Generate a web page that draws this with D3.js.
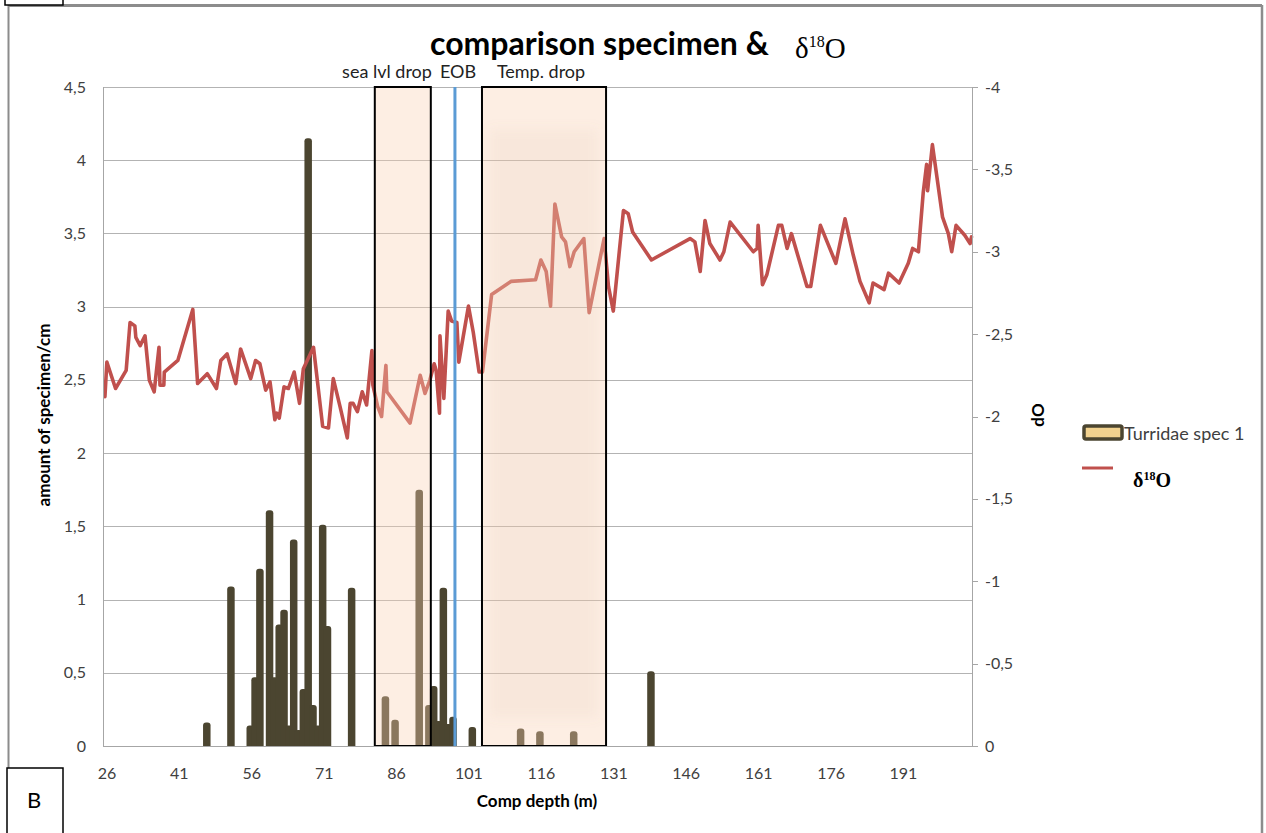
<!DOCTYPE html>
<html>
<head>
<meta charset="utf-8">
<script src="https://cdn.jsdelivr.net/npm/d3@7/dist/d3.min.js"></script>
<style>
  html, body { margin: 0; padding: 0; background: #fff; }
  svg { display: block; }
</style>
</head>
<body>
<svg id="chart" width="1266" height="833"></svg>
<script>
// ---------- DATA ----------
const barDepths = [47, 52, 56, 57, 58, 60, 61, 62, 63, 64, 65, 66, 67, 68, 69, 70, 71, 72, 77, 84, 86, 91, 93, 94, 95, 96, 97, 98, 102, 112, 116, 123, 139];
const barValues = [0.16, 1.09, 0.14, 0.47, 1.21, 1.61, 0.47, 0.83, 0.93, 0.14, 1.41, 0.11, 0.39, 4.15, 0.28, 0.14, 1.51, 0.82, 1.08, 0.34, 0.18, 1.75, 0.28, 0.41, 0.17, 1.08, 0.15, 0.20, 0.13, 0.12, 0.10, 0.10, 0.51];

const d18oDepths = [25.9, 26.3, 28.1, 30.3, 31.1, 32.1, 32.3, 33.2, 34.2, 35.1, 36.1, 37.1, 37.3, 38.1, 38.2, 41.0, 44.1, 45.1, 47.1, 49.0,
  49.9, 51.2, 53.0, 54.0, 56.1, 57.1, 58.0, 59.2, 60.1, 61.1, 61.5, 62.0, 63.0, 63.9, 65.1, 66.2, 67.0, 69.1, 71.0, 72.2,
  73.2, 74.6, 76.1, 76.7, 77.3, 78.2, 79.2, 80.1, 81.2, 81.4, 82.4, 83.2, 84.1, 84.3, 89.1, 91.2, 92.2, 93.2, 94.1, 94.5,
  95.2, 95.3, 96.1, 97.0, 97.7, 98.8, 99.2, 101.2, 102.2, 103.4, 104.1, 106.0, 110.0, 115.1, 116.2, 117.3, 118.2, 119.1, 120.5, 121.3,
  122.2, 123.1, 125.1, 126.2, 129.3, 130.2, 131.2, 133.3, 134.3, 135.2, 139.1, 140.3, 147.1, 148.1, 149.2, 150.2, 151.2, 153.3, 154.1, 155.4,
  160.2, 161.0, 161.2, 162.1, 163.0, 165.4, 166.1, 167.2, 168.1, 171.3, 172.1, 174.1, 177.3, 179.2, 180.9, 182.3, 184.2, 185.0, 187.3, 188.2,
  190.4, 192.3, 193.2, 194.4, 195.4, 196.1, 196.3, 197.3, 199.4, 200.6, 201.3, 202.2, 204.0, 205.1, 205.4];
const d18oValues = [-2.12, -2.33, -2.17, -2.28, -2.57, -2.55, -2.48, -2.43, -2.49, -2.22, -2.15, -2.42, -2.19, -2.19, -2.27, -2.34, -2.65, -2.20, -2.26, -2.17,
  -2.34, -2.38, -2.20, -2.41, -2.23, -2.34, -2.32, -2.16, -2.21, -1.98, -2.02, -1.99, -2.18, -2.17, -2.27, -2.08, -2.29, -2.42, -1.94, -1.93,
  -2.23, -2.06, -1.87, -2.08, -2.08, -2.03, -2.15, -2.07, -2.40, -2.19, -2.06, -2.00, -2.31, -2.15, -1.96, -2.25, -2.14, -2.22, -2.32, -2.28,
  -2.02, -2.49, -2.11, -2.64, -2.58, -2.57, -2.33, -2.67, -2.51, -2.27, -2.27, -2.74, -2.82, -2.83, -2.95, -2.88, -2.67, -3.29, -3.09, -3.06,
  -2.91, -3.00, -3.08, -2.63, -3.08, -2.79, -2.64, -3.25, -3.23, -3.12, -2.95, -2.97, -3.08, -3.06, -2.88, -3.19, -3.05, -2.95, -3.00, -3.18,
  -3.00, -3.02, -3.16, -2.80, -2.86, -3.16, -3.16, -3.02, -3.11, -2.79, -2.79, -3.16, -2.93, -3.20, -2.98, -2.82, -2.69, -2.81, -2.77, -2.87,
  -2.81, -2.93, -3.02, -3.00, -3.36, -3.53, -3.37, -3.65, -3.21, -3.11, -3.00, -3.16, -3.10, -3.05, -3.09];

const xTickLabels = [26, 41, 56, 71, 86, 101, 116, 131, 146, 161, 176, 191];
const leftTicks = [0, 0.5, 1, 1.5, 2, 2.5, 3, 3.5, 4, 4.5];
const rightTicks = [0, -0.5, -1, -1.5, -2, -2.5, -3, -3.5, -4];
const eventLabels = ["sea lvl drop", "Temp. drop"];
const eventFrom = [81.8, 104.0];
const eventTo = [93.4, 129.7];
const eobDepth = 98.4;
const eobLabel = "EOB";
const barSeriesName = "Turridae spec 1";

// ---------- LAYOUT ----------
const L = 103, R = 972, T = 87, B = 746;
const svg = d3.select("#chart");
const font = "Lato, 'Open Sans', sans-serif";
const serif = "'Liberation Serif', 'DejaVu Serif', serif";

const x = d3.scaleLinear().domain([25.5, 205.5]).range([L, R]);
const yL = d3.scaleLinear().domain([0, 4.5]).range([B, T]);
const yR = d3.scaleLinear().domain([0, -4]).range([B, T]);
const fmt = v => String(v).replace(".", ",");

// outer frame
svg.append("line").attr("x1", 8).attr("x2", 1262).attr("y1", 5.5).attr("y2", 5.5)
  .attr("stroke", "#8c8c8c").attr("stroke-width", 3);
svg.append("line").attr("x1", 8.5).attr("x2", 8.5).attr("y1", 5).attr("y2", 768)
  .attr("stroke", "#8c8c8c").attr("stroke-width", 2);
svg.append("line").attr("x1", 1262).attr("x2", 1262).attr("y1", 5).attr("y2", 833)
  .attr("stroke", "#8c8c8c").attr("stroke-width", 2.5);
svg.append("rect").attr("x", 5).attr("y", -10).attr("width", 58).attr("height", 15)
  .attr("fill", "#fff").attr("stroke", "#000").attr("stroke-width", 1.5);

// gridlines
svg.append("g").selectAll("line").data(leftTicks.filter(d => d > 0)).join("line")
  .attr("x1", L).attr("x2", R)
  .attr("y1", d => Math.round(yL(d)) + 0.5).attr("y2", d => Math.round(yL(d)) + 0.5)
  .attr("stroke", "#b3b3b3").attr("stroke-width", 1);

// bars
const bw = 7.5;
svg.append("g").selectAll("path").data(barDepths.map((d, i) => ({ d, v: barValues[i] }))).join("path")
  .attr("d", p => {
    const cx = x(p.d), top = yL(p.v), r = 3;
    const x0 = cx - bw / 2, x1 = cx + bw / 2;
    return `M${x0},${B} L${x0},${top + r} Q${x0},${top} ${x0 + r},${top} L${x1 - r},${top} Q${x1},${top} ${x1},${top + r} L${x1},${B} Z`;
  })
  .attr("fill", "#4b4530");

// line
const lineGen = d3.line().x((d, i) => x(d18oDepths[i])).y(d => yR(d));
svg.append("path").datum(d18oValues).attr("d", lineGen)
  .attr("fill", "none").attr("stroke", "#c0504d").attr("stroke-width", 3.6)
  .attr("stroke-linejoin", "round").attr("stroke-linecap", "round");

// event boxes
const defs = svg.append("defs");
defs.append("filter").attr("id", "blur").attr("x", "-20%").attr("y", "-20%").attr("width", "140%").attr("height", "140%")
  .append("feGaussianBlur").attr("stdDeviation", 6);
eventLabels.forEach((lab, i) => {
  const x0 = x(eventFrom[i]), x1 = x(eventTo[i]);
  svg.append("rect").attr("x", x0).attr("y", T).attr("width", x1 - x0).attr("height", B - T)
    .attr("fill", "rgb(250,209,178)").attr("fill-opacity", 0.36);
  if (i === 1) {
    svg.append("rect").attr("x", x0 + 8).attr("y", T + 42).attr("width", x1 - x0 - 16).attr("height", B - T - 70)
      .attr("fill", "rgb(190,140,110)").attr("fill-opacity", 0.07).attr("filter", "url(#blur)");
  }
  svg.append("rect").attr("x", x0).attr("y", T).attr("width", x1 - x0).attr("height", B - T)
    .attr("fill", "none").attr("stroke", "#000").attr("stroke-width", 2);
});

// EOB line
svg.append("line").attr("x1", x(eobDepth)).attr("x2", x(eobDepth)).attr("y1", T).attr("y2", B)
  .attr("stroke", "#5b9bd5").attr("stroke-width", 3);

// axes lines
svg.append("line").attr("x1", L).attr("x2", R).attr("y1", B + 0.5).attr("y2", B + 0.5).attr("stroke", "#a6a6a6");
svg.append("line").attr("x1", L + 0.5).attr("x2", L + 0.5).attr("y1", T).attr("y2", B).attr("stroke", "#a6a6a6");
svg.append("line").attr("x1", R + 0.5).attr("x2", R + 0.5).attr("y1", T).attr("y2", B).attr("stroke", "#a6a6a6");

// left axis labels
svg.append("g").selectAll("text").data(leftTicks).join("text")
  .attr("x", 86).attr("y", d => yL(d) + 5.5).attr("text-anchor", "end")
  .attr("font-family", font).attr("font-size", 16).attr("fill", "#404040").text(fmt);

// right axis ticks + labels
svg.append("g").selectAll("line").data(rightTicks).join("line")
  .attr("x1", R).attr("x2", R + 6).attr("y1", d => Math.round(yR(d)) + 0.5).attr("y2", d => Math.round(yR(d)) + 0.5)
  .attr("stroke", "#a6a6a6");
svg.append("g").selectAll("text").data(rightTicks).join("text")
  .attr("x", 985).attr("y", d => yR(d) + 5.5).attr("text-anchor", "start")
  .attr("font-family", font).attr("font-size", 16).attr("fill", "#404040").text(fmt);

// x labels
svg.append("g").selectAll("text").data(xTickLabels).join("text")
  .attr("x", d => x(d) + 1.5).attr("y", 779).attr("text-anchor", "middle")
  .attr("font-family", font).attr("font-size", 16).attr("fill", "#404040").text(d => d);

// axis titles
svg.append("text").attr("transform", "translate(50,415) rotate(-90)").attr("text-anchor", "middle")
  .attr("font-family", font).attr("font-weight", "bold").attr("font-size", 17).attr("fill", "#000")
  .text("amount of specimen/cm");
svg.append("text").attr("x", 537).attr("y", 807).attr("text-anchor", "middle")
  .attr("font-family", font).attr("font-weight", "bold").attr("font-size", 17).attr("fill", "#000")
  .text("Comp depth (m)");
svg.append("text").attr("transform", "translate(1044,415) rotate(-90)").attr("text-anchor", "middle")
  .attr("font-family", font).attr("font-weight", "bold").attr("font-size", 17).attr("fill", "#000")
  .text("dO");

// event labels
const evCenters = [387, 541];
eventLabels.forEach((lab, i) => {
  svg.append("text").attr("x", evCenters[i]).attr("y", 78).attr("text-anchor", "middle")
    .attr("font-family", font).attr("font-size", 18).attr("fill", "#222").text(lab);
});
svg.append("text").attr("x", 458).attr("y", 78).attr("text-anchor", "middle")
  .attr("font-family", font).attr("font-size", 18).attr("fill", "#222").text(eobLabel);

// title
svg.append("text").attr("x", 430).attr("y", 55).attr("fill", "#000")
  .attr("font-family", font).attr("font-weight", "bold").attr("font-size", 32).text("comparison specimen &");
const t2 = svg.append("text").attr("x", 795).attr("y", 58).attr("fill", "#000").attr("font-family", serif);
t2.append("tspan").attr("font-size", 29).text("δ");
t2.append("tspan").attr("dy", -11).attr("font-size", 16).text("18");
t2.append("tspan").attr("dy", 11).attr("font-size", 29).text("O");

// legend
svg.append("rect").attr("x", 1084).attr("y", 426).attr("width", 38).attr("height", 13).attr("rx", 2)
  .attr("fill", "#f2d28f").attr("stroke", "#4b4530").attr("stroke-width", 3.5);
svg.append("text").attr("x", 1124).attr("y", 440).attr("font-family", font).attr("font-size", 18)
  .attr("fill", "#404040").text(barSeriesName);
svg.append("line").attr("x1", 1082).attr("x2", 1113).attr("y1", 468).attr("y2", 468)
  .attr("stroke", "#c0504d").attr("stroke-width", 3);
const lt = svg.append("text").attr("x", 1133).attr("y", 487).attr("fill", "#000").attr("font-weight", "bold");
lt.append("tspan").attr("font-family", serif).attr("font-size", 20).text("δ");
lt.append("tspan").attr("dy", -7).attr("font-family", serif).attr("font-size", 12).text("18");
lt.append("tspan").attr("dy", 7).attr("font-family", serif).attr("font-size", 20).text("O");

// B panel box
svg.append("rect").attr("x", 7).attr("y", 768).attr("width", 56).attr("height", 80)
  .attr("fill", "#fff").attr("stroke", "#000").attr("stroke-width", 1.5);
svg.append("text").attr("x", 34).attr("y", 808).attr("text-anchor", "middle")
  .attr("font-family", font).attr("font-size", 22).attr("fill", "#000").text("B");
</script>
</body>
</html>
